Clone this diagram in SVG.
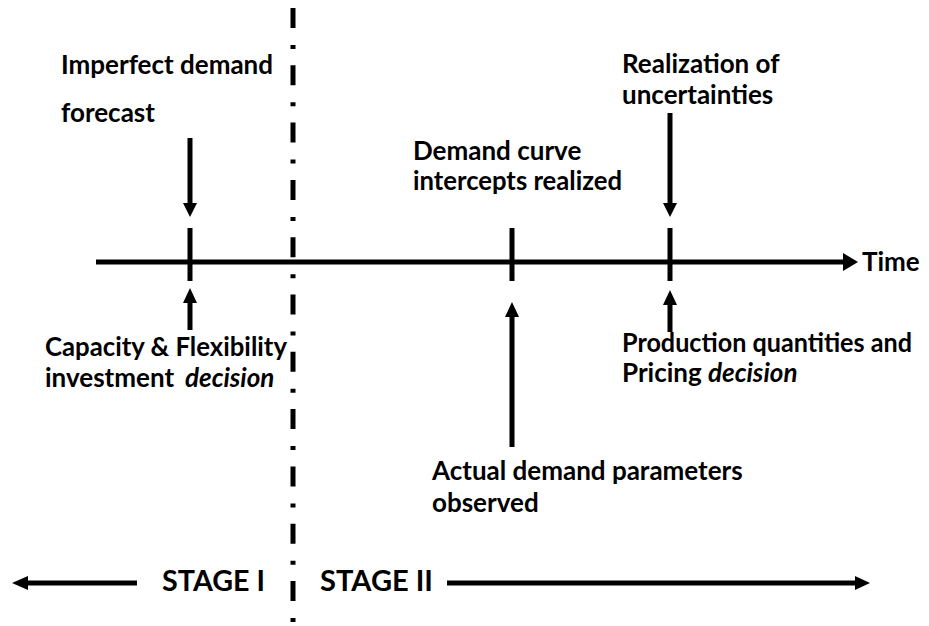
<svg xmlns="http://www.w3.org/2000/svg" width="929" height="626" viewBox="0 0 929 626">
<defs>
<style>
.t{font-family:Lato,"Open Sans","Liberation Sans",sans-serif;font-weight:bold;font-size:26px;fill:#000}
.s{font-size:28px}
.i{font-style:italic}
.ln{stroke:#000;stroke-width:5;fill:none}
.hd{fill:#000}
</style>
</defs>
<rect width="929" height="626" fill="#fff"/>
<g id="divider">
<line x1="293" y1="8" x2="293" y2="626" stroke="#000" stroke-width="5" stroke-dasharray="20 17 4 16.3"/>
</g>
<g id="timeline">
<line class="ln" x1="96" y1="262" x2="845" y2="262"/>
<polygon class="hd" points="843,253 858,262 843,271"/>
<text class="t" x="862" y="271">Time</text>
<line class="ln" x1="190" y1="228" x2="190" y2="281"/>
<line class="ln" x1="512" y1="228" x2="512" y2="281"/>
<line class="ln" x1="670" y1="228" x2="670" y2="281"/>
</g>
<g id="connectors">
<line class="ln" x1="190" y1="138" x2="190" y2="204"/>
<polygon class="hd" points="183,203 197,203 190,217"/>
<line class="ln" x1="190" y1="302" x2="190" y2="330"/>
<polygon class="hd" points="183,303 197,303 190,288"/>
<line class="ln" x1="670" y1="113" x2="670" y2="204"/>
<polygon class="hd" points="663,203 677,203 670,217"/>
<line class="ln" x1="670" y1="304" x2="670" y2="332"/>
<polygon class="hd" points="663,305 677,305 670,290"/>
<line class="ln" x1="512" y1="316" x2="512" y2="447"/>
<polygon class="hd" points="505,317 519,317 512,302"/>
</g>
<g id="n-forecast">
<text class="t" x="61" y="74">Imperfect demand</text>
<text class="t" x="61" y="122">forecast</text>
</g>
<g id="n-realization">
<text class="t" x="622" y="73">Realization of</text>
<text class="t" x="622" y="104">uncertainties</text>
</g>
<g id="n-intercepts">
<text class="t" x="413" y="160">Demand curve</text>
<text class="t" x="413" y="190" textLength="209" lengthAdjust="spacingAndGlyphs">intercepts realized</text>
</g>
<g id="n-capacity">
<text class="t" x="45" y="356" textLength="242" lengthAdjust="spacingAndGlyphs">Capacity &amp; Flexibility</text>
<text class="t" x="45" y="387">investment <tspan class="i" x="185">decision</tspan></text>
</g>
<g id="n-production">
<text class="t" x="622" y="352" textLength="290" lengthAdjust="spacingAndGlyphs">Production quantities and</text>
<text class="t" x="622" y="382">Pricing <tspan class="i">decision</tspan></text>
</g>
<g id="n-actual">
<text class="t" x="432" y="480">Actual demand parameters</text>
<text class="t" x="432" y="512">observed</text>
</g>
<g id="stages">
<line class="ln" x1="24" y1="583" x2="137" y2="583"/>
<polygon class="hd" points="28,576 28,590 12,583"/>
<text class="t s" x="162" y="591" textLength="103" lengthAdjust="spacingAndGlyphs">STAGE I</text>
<text class="t s" x="320" y="591" textLength="113" lengthAdjust="spacingAndGlyphs">STAGE II</text>
<line class="ln" x1="447" y1="583" x2="858" y2="583"/>
<polygon class="hd" points="855,576 855,590 870,583"/>
</g>
</svg>
